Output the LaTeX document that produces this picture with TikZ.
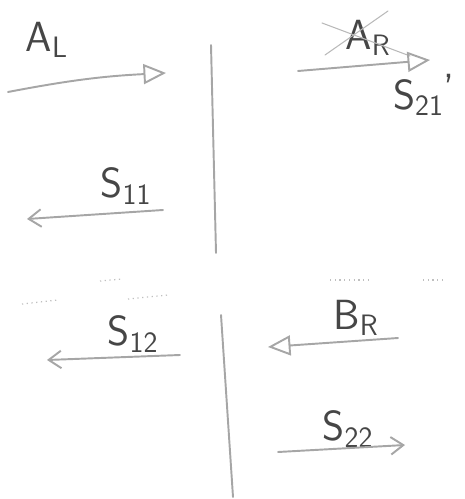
\documentclass[tikz,border=0pt]{standalone}
\usetikzlibrary{arrows.meta}
\begin{document}
\begin{tikzpicture}[x=0.02cm,y=-0.02cm,font=\sffamily,pencil/.style={draw=gray!70, line width=1.1pt, line cap=round},wave/.style={pencil, -{Triangle[open, length=4.5mm, width=4mm]}},refl/.style={pencil, -{Straight Barb[length=2.5mm, width=3.5mm]}},faint/.style={draw=gray!50, line width=0.7pt, dotted},lab/.style={gray!55!black, inner sep=0pt, font=\sffamily\fontsize{24}{28}\selectfont}]
\useasboundingbox (0,0) rectangle (464,499);
\coordinate (divTopA) at (211,45);\coordinate (divTopB) at (216,253);\coordinate (divLowA) at (221,315);\coordinate (divLowB) at (233,497);
\draw[pencil] (divTopA) -- (divTopB);\draw[pencil] (divLowA) -- (divLowB);
\node[lab] (al) at (47,40) {A\textsubscript{L}};\coordinate (alTail) at (8,92);\coordinate (alHead) at (166,73);\draw[wave] (alTail) to[bend left=4] (alHead);
\node[lab] (ar) at (368,38) {A\textsubscript{R}};\coordinate (xA) at (322,23);\coordinate (xB) at (410,56);\coordinate (xC) at (388,11);\coordinate (xD) at (325,55);\draw[pencil, line width=0.6pt, gray!55] (xA) -- (xB);\draw[pencil, line width=0.6pt, gray!55] (xC) -- (xD);
\coordinate (arTail) at (298,71);\coordinate (arHead) at (430,60);\draw[wave] (arTail) -- (arHead);
\node[lab] (s21) at (424,95) {S\textsubscript{21}\raisebox{0.3ex}{'}};
\node[lab] (s11) at (126,186) {S\textsubscript{11}};\coordinate (s11Tail) at (163,210);\coordinate (s11Head) at (27,219);\draw[refl] (s11Tail) -- (s11Head);
\coordinate (fa) at (22,304);\coordinate (fb) at (58,300);\coordinate (fc) at (100,281);\coordinate (fd) at (122,279);\coordinate (fe) at (128,299);\coordinate (ff) at (168,295);\coordinate (fg) at (330,280);\coordinate (fh) at (372,280);\coordinate (fi) at (423,280);\coordinate (fj) at (445,280);
\draw[faint] (fa) -- (fb);\draw[faint] (fc) -- (fd);\draw[faint] (fe) -- (ff);\draw[faint] (fg) -- (fh);\draw[faint] (fi) -- (fj);
\node[lab] (s12) at (133,334) {S\textsubscript{12}};\coordinate (s12Tail) at (180,355);\coordinate (s12Head) at (47,360);\draw[refl] (s12Tail) -- (s12Head);
\node[lab] (br) at (356,318) {B\textsubscript{R}};\coordinate (brTail) at (398,338);\coordinate (brHead) at (268,347);\draw[wave] (brTail) -- (brHead);
\node[lab] (s22) at (348,429) {S\textsubscript{22}};\coordinate (s22Tail) at (278,452);\coordinate (s22Head) at (405,445);\draw[refl] (s22Tail) -- (s22Head);
\end{tikzpicture}
\end{document}
